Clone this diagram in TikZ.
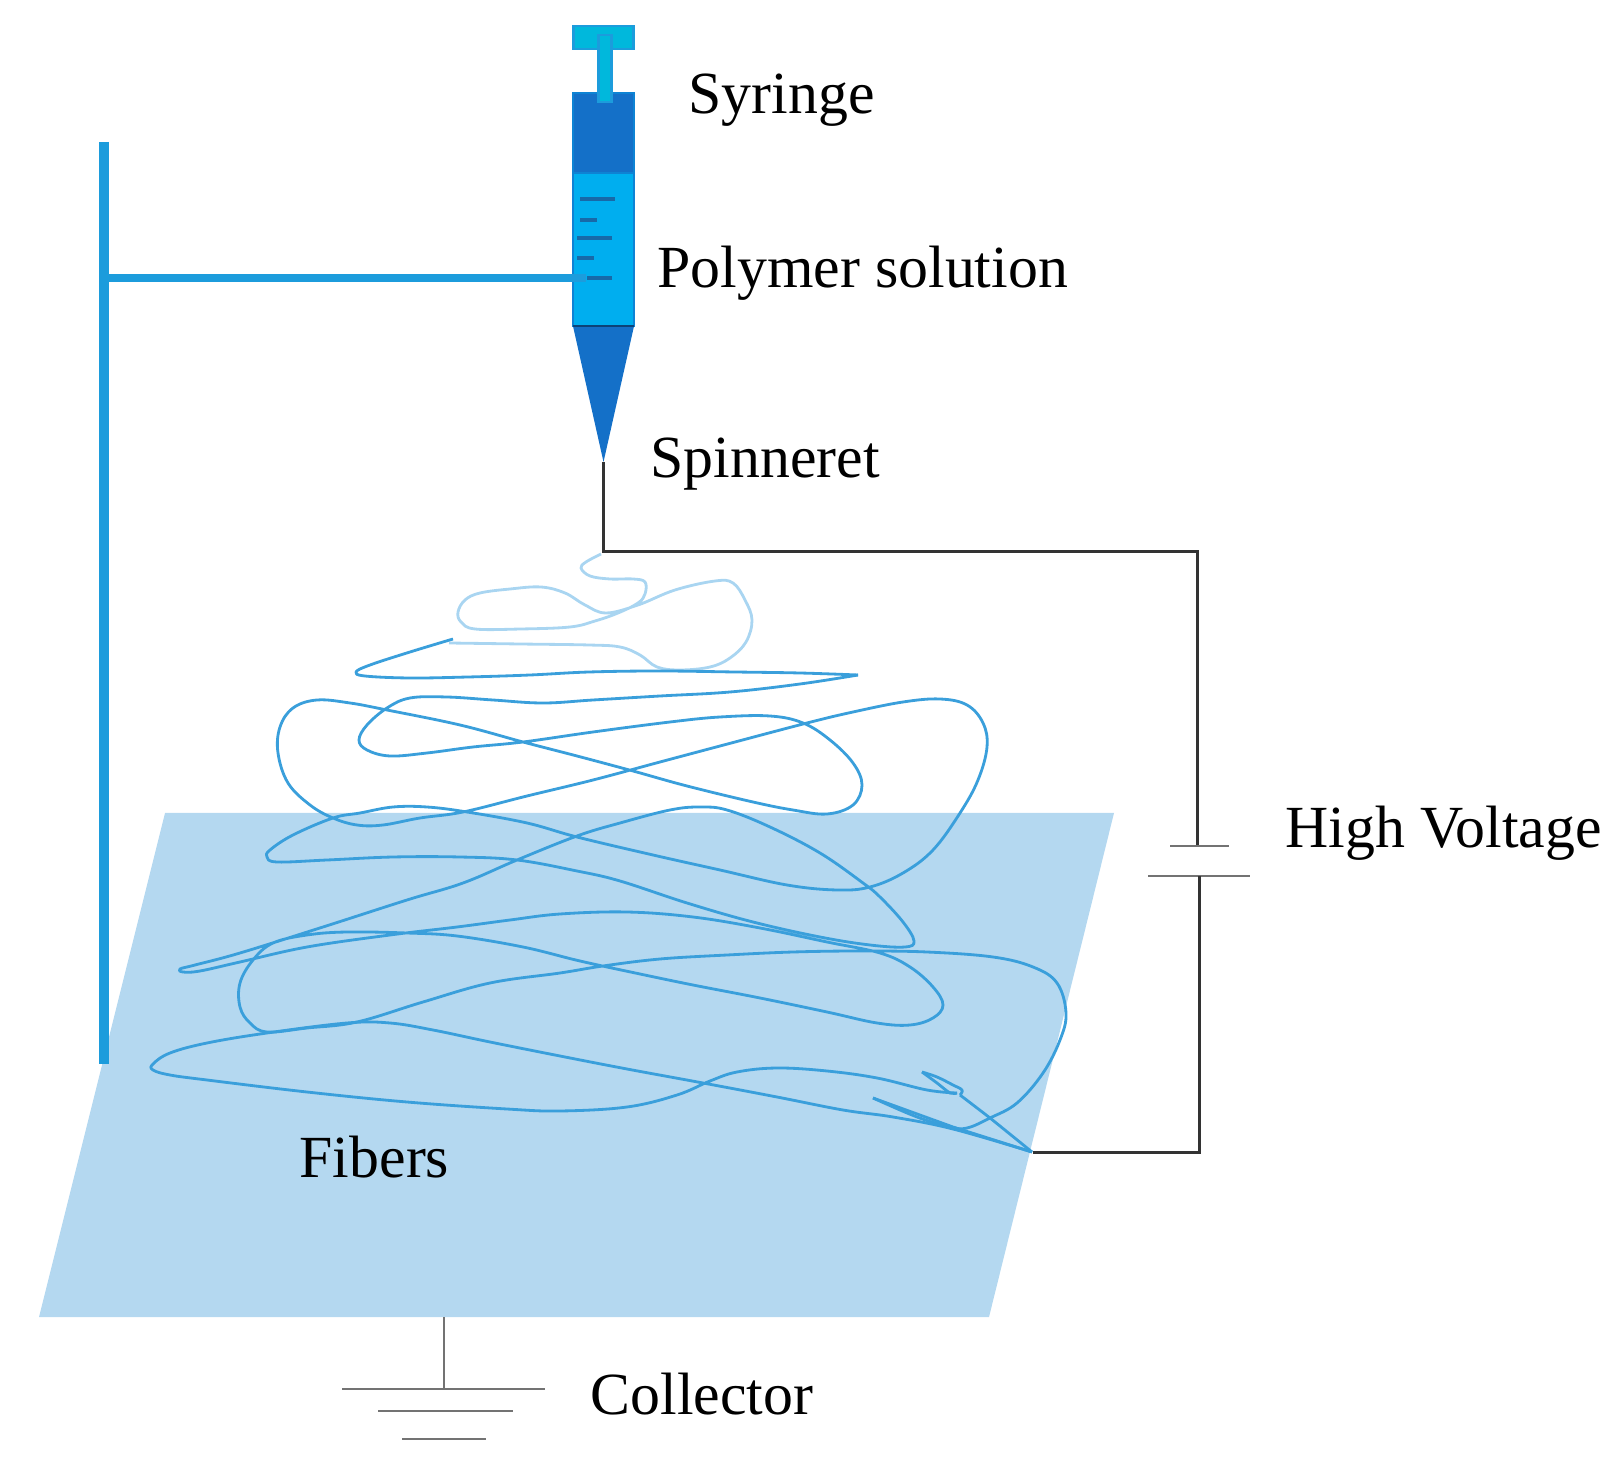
\documentclass[tikz,border=0pt]{standalone}
\usepackage{fontspec}
\setmainfont{Liberation Serif}
\usetikzlibrary{positioning}

\definecolor{standblue}{HTML}{1C9CDC}
\definecolor{barreldark}{HTML}{1470C8}
\definecolor{barrellight}{HTML}{00AEEF}
\definecolor{plungercyan}{HTML}{00B8DC}
\definecolor{plateblue}{HTML}{B4D8F0}
\definecolor{fiberblue}{HTML}{3A9FDB}
\definecolor{fiberpale}{HTML}{A9D5F1}
\definecolor{tickblue}{HTML}{1769A8}

\begin{document}
\begin{tikzpicture}[x=0.01cm,y=-0.01cm]
    \tikzstyle{txt}=[font=\fontsize{17}{20}\selectfont,inner sep=0pt,anchor=base west]
    \tikzstyle{barrel}=[rectangle,draw=barreldark!70!barrellight,thin,inner sep=0pt,outer sep=0pt,minimum width=0.61cm]
    \tikzstyle{plunger}=[barrel,fill=plungercyan,draw=standblue,line width=0.7pt]
    \tikzstyle{wire}=[draw=black!80,line width=0.85pt,line join=miter]
    \tikzstyle{gnd}=[draw=black!55,line width=0.8pt]
    \tikzstyle{tick}=[draw=tickblue,line width=1.1pt]
    \tikzstyle{fiber}=[draw=fiberblue,line width=0.8pt,line join=round]
    \tikzstyle{paler}=[draw=fiberpale,line width=0.8pt,line join=round]

    \useasboundingbox (0,0) rectangle (1619,1477);

    \fill[plateblue] (165,813) -- (1114,813) -- (989,1317) -- (39,1317) -- cycle;

    % stand
    \coordinate (stand_top) at (104,142);
    \coordinate (stand_bottom) at (104,1064);
    \coordinate (stand_arm) at (104,278);
    \coordinate (arm_end) at (586,278);

    % syringe
    \node[barrel,fill=barreldark,minimum height=0.8cm](barrel_top) at (603.5,133){};
    \node[barrel,fill=barrellight,minimum height=1.53cm](barrel_mid)[below=0pt of barrel_top]{};
    \coordinate (spin_tip) at (603.5,462);
    \fill[barreldark] (barrel_mid.south west) -- (barrel_mid.south east) -- (spin_tip) -- cycle;
    \draw[barreldark!60!black,thin] (barrel_mid.south west) -- (barrel_mid.south east);
    \node[plunger,minimum width=0.6cm,minimum height=0.23cm](handle) at (603.5,37.5){};
    \node[plunger,minimum width=0.13cm,minimum height=0.67cm](rod) at (605,68.5){};

    \draw[tick] (580,199) -- (615,199);
    \draw[tick] (580,220) -- (597,220);
    \draw[tick] (577,238) -- (612,238);
    \draw[tick] (577,258) -- (594,258);
    \draw[tick] (587,278) -- (612,278);

    \draw[standblue,line width=2.3pt] (stand_arm) -- (arm_end);
    \draw[standblue,line width=2.6pt] (stand_top) -- (stand_bottom);

    % fibers
    \draw[paler] plot[smooth,tension=0.62] coordinates {(601,554) (586,562) (581,568) (590,576)
      (610,579) (633,579) (645,582) (645,594) (638,603) (618,613) (595,621) (570,627) (521,629)
      (475,629) (461,622) (458,612) (465,600) (480,593) (510,589) (541,587) (565,593) (585,605)
      (606,613) (638,605) (675,590) (715,581) (733,583) (745,600) (752,620) (746,642) (730,658)
      (710,667) (680,670) (657,667) (640,655) (620,647) (589,645) (520,644) (449,643)};
    \draw[fiber] plot[smooth,tension=0.62] coordinates {(453,639) (410,652) (370,665) (356,672)
      (365,676) (410,678) (468,677) (530,675) (589,672) (660,671) (735,672) (800,673) (858,675)};
    \draw[fiber] plot[smooth,tension=0.62] coordinates {(858,675) (800,684) (730,692) (660,696)
      (593,700) (543,703) (493,700) (447,697) (410,698) (387,708) (367,725) (359,740) (367,750)
      (390,756) (427,753) (473,747) (523,742) (593,732) (670,722) (720,717) (770,716) (803,723)
      (830,740) (853,763) (862,785) (853,805) (827,814) (793,810) (753,802) (687,786) (633,771)
      (577,756) (523,742) (460,725) (387,710) (350,703) (317,700) (293,708) (280,727) (278,753)
      (288,783) (310,805) (333,818) (357,825) (383,825) (420,818) (463,812) (527,796) (593,780)
      (660,762) (720,746) (807,723) (853,712) (903,702) (940,699) (967,705) (983,723) (987,747)
      (978,780) (960,813) (933,850) (903,873) (870,887) (837,890) (787,885) (720,870) (653,855)
      (577,837) (527,823) (467,812) (427,807) (393,807) (360,813) (333,818) (293,835) (270,850)
      (267,857) (277,862) (327,860) (393,857) (460,857) (517,860) (577,871) (620,881) (687,903)
      (753,922) (820,937) (870,945) (905,947) (914,941) (903,922) (880,897) (863,883) (820,853)
      (770,827) (727,810) (700,807) (670,810) (620,823) (577,836) (517,860) (463,883) (407,900)
      (323,927) (240,953) (195,965) (180,969) (183,972) (200,971) (240,962) (307,947) (390,935)
      (457,927) (510,920) (560,914) (627,912) (693,917) (760,928) (827,942) (880,953) (910,967)
      (933,987) (943,1005) (933,1018) (910,1025) (877,1023) (827,1012) (760,998) (693,985)
      (640,974) (580,961) (523,947) (457,936) (407,933) (347,932) (307,935) (273,943) (253,960)
      (240,983) (240,1007) (250,1023) (267,1032) (307,1028) (357,1022) (423,1002) (490,983)
      (560,973) (603,966) (660,959) (727,955) (793,952) (860,951) (927,952) (993,957) (1033,967)
      (1057,983) (1066,1013) (1060,1040) (1043,1073) (1017,1103) (990,1118) (967,1128) (950,1127)
      (917,1117) (873,1098)};
    \draw[fiber] (873,1098) -- (953,1127) -- (1032,1152);
    \draw[fiber] plot[smooth,tension=0.3] coordinates {(1032,1152) (990,1118) (960,1095)};
    \draw[fiber] plot[smooth,tension=0.62] coordinates {(960,1095) (962,1090) (953,1085) (937,1077) (922,1072)};
    \draw[fiber] plot[smooth,tension=0.5] coordinates {(922,1072) (937,1083) (950,1093) (957,1093)};
    \draw[fiber] plot[smooth,tension=0.62] coordinates {(957,1093) (927,1090) (877,1078) (827,1071)
      (777,1068) (737,1072) (710,1081) (677,1095) (627,1107) (560,1111) (507,1109) (407,1102)
      (307,1092) (207,1080) (170,1075) (153,1070) (153,1064) (170,1053) (207,1043) (267,1033)
      (347,1023) (390,1023) (433,1030) (490,1042) (560,1056) (627,1069) (703,1083) (777,1097)
      (843,1110) (893,1117) (953,1129) (1032,1152)};

    % high voltage circuit
    \coordinate (wire_corner) at (1197,552);
    \coordinate (cap_top) at (1197,846);
    \coordinate (cap_top_l) at (1170,846);
    \coordinate (cap_top_r) at (1229,846);
    \coordinate (cap_low) at (1199,876);
    \coordinate (cap_low_l) at (1148,876);
    \coordinate (cap_low_r) at (1250,876);
    \coordinate (plate_corner) at (1033,1152);
    \coordinate (low_corner) at (1199,1152);
    \draw[wire] (spin_tip) |- (wire_corner) -- (cap_top);
    \draw[wire,draw=black!55] (cap_top_l) -- (cap_top_r);
    \draw[wire,draw=black!55] (cap_low_l) -- (cap_low_r);
    \draw[wire] (cap_low) -- (low_corner) -- (plate_corner);

    % ground
    \coordinate (gnd_top) at (444,1317);
    \coordinate (gnd_mid) at (444,1389);
    \draw[gnd] (gnd_top) -- (gnd_mid);
    \draw[gnd] (342,1389) -- (545,1389);
    \draw[gnd] (378,1411) -- (513,1411);
    \draw[gnd] (402,1439) -- (486,1439);

    \node[txt](syringe) at (688,114){Syringe};
    \node[txt](polymer) at (657,288){Polymer solution};
    \node[txt](spinneret) at (650,478){Spinneret};
    \node[txt](voltage) at (1285,847){High Voltage};
    \node[txt](fibers) at (299,1177){Fibers};
    \node[txt](collector) at (590,1414){Collector};
\end{tikzpicture}
\end{document}
